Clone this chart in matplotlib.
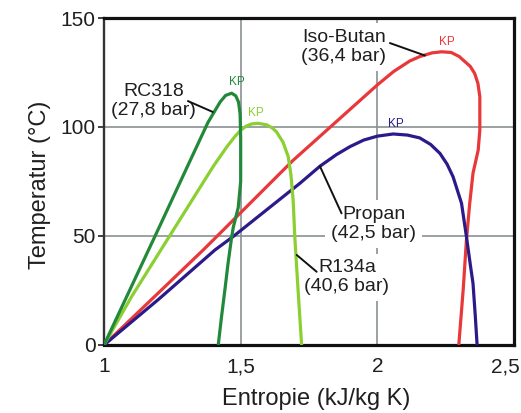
import numpy as np
import matplotlib
matplotlib.use("Agg")
import matplotlib.pyplot as plt
from matplotlib.transforms import ScaledTranslation

# ---------------- data ----------------
# Entropy s (kJ/kg K) and temperature T (degC) along each saturation curve
rc318_s = [1.0, 1.2, 1.3, 1.38, 1.406, 1.425, 1.445, 1.467, 1.482, 1.492, 1.498,
           1.50, 1.50, 1.491, 1.473, 1.467, 1.454, 1.442, 1.43, 1.418]
rc318_T = [0, 53.5, 80.5, 102, 107.5, 111.5, 114.5, 115.5, 114.3, 111.5, 106,
           95, 75, 63, 54, 49.5, 37.6, 25, 13, 0]

r134a_s = [1.0, 1.1, 1.2, 1.3, 1.4, 1.45, 1.48, 1.5, 1.52, 1.54, 1.564,
           1.595, 1.615, 1.631, 1.655, 1.674, 1.684, 1.692, 1.698, 1.71, 1.723]
r134a_T = [0, 22, 42, 62, 82, 91, 95.8, 98.5, 100.4, 101.4, 101.7,
           101, 99.6, 97.8, 93, 86.4, 78, 66.5, 49.7, 25.2, 0]

isobutan_s = [1.0, 1.363, 1.412, 1.69, 2.0, 2.06, 2.119, 2.155, 2.2, 2.235, 2.27, 2.3, 2.314,
              2.34, 2.356, 2.368, 2.375, 2.375, 2.369, 2.35, 2.338, 2.326, 2.314, 2.298]
isobutan_T = [0, 43.6, 49.7, 84.5, 119.3, 125.5, 130.3, 132.3, 134, 134.5, 134.2, 132.3, 130.7,
              127.8, 124.6, 120, 113.9, 98.6, 89.4, 78.8, 65, 48.2, 25.2, 0]

propan_s = [1.0, 1.2, 1.406, 1.472, 1.6, 1.717, 1.79, 1.85, 1.90, 1.95, 2.0, 2.058, 2.11,
            2.155, 2.195, 2.229, 2.255, 2.277, 2.308, 2.326, 2.34, 2.35, 2.358, 2.365]
propan_T = [0, 21, 43.6, 49.7, 62.5, 74.2, 82, 87.3, 91, 94, 95.8, 96.8, 96.3,
            95, 92, 87.9, 83, 77.2, 65, 49.7, 37, 28.3, 14, 0]

names = ["RC318\n(27,8 bar)", "R134a\n(40,6 bar)", "Iso-Butan\n(36,4 bar)", "Propan\n(42,5 bar)"]

x_ticks = [1, 1.5, 2, 2.5]
x_ticklabels = ["1", "1,5", "2", "2,5"]
y_ticks = [0, 50, 100, 150]
y_ticklabels = ["0", "50", "100", "150"]

# ---------------- styling ----------------
plt.rcParams['font.family'] = ['Liberation Sans', 'DejaVu Sans']
c_rc318 = '#23893a'
c_r134a = '#8ccf33'
c_iso = '#e8383a'
c_prop = '#2b1b8a'
txt_col = '#1f1f1f'

fig = plt.figure(figsize=(5.21, 4.13), dpi=100)
ax = fig.add_axes([104/521, 1-345/413, 410/521, 327/413])
ax.set_xlim(1, 2.5)
ax.set_ylim(0, 150)

ax.set_xticks(x_ticks)
ax.set_xticklabels(x_ticklabels)
ax.set_yticks(y_ticks)
ax.set_yticklabels(y_ticklabels)
ax.tick_params(axis='x', length=0, pad=9, labelsize=15, colors=txt_col)
ax.tick_params(axis='y', length=4, width=1.2, pad=2, labelsize=15, colors=txt_col, direction='out')
ax.grid(True, color='#8a9092', lw=1.2, zorder=0)
ax.set_axisbelow(True)

# keep the last x tick label inside the figure
last = ax.get_xticklabels()[-1]
last.set_horizontalalignment('right')
last.set_transform(last.get_transform() + ScaledTranslation(4/72, 0, fig.dpi_scale_trans))

for side in ['top', 'right', 'bottom']:
    ax.spines[side].set_linewidth(2.3)
    ax.spines[side].set_color('#111111')
ax.spines['left'].set_linewidth(1.7)
ax.spines['left'].set_color('#333333')

lw = 2.3
series = [
    (isobutan_s, isobutan_T, c_iso, names[2]),
    (propan_s, propan_T, c_prop, names[3]),
    (r134a_s, r134a_T, c_r134a, names[1]),
    (rc318_s, rc318_T, c_rc318, names[0]),
]
for s, T, c, _ in series:
    ax.plot(s, T, color=c, lw=lw, zorder=3, solid_joinstyle='round', solid_capstyle='butt')

# KP (critical point) labels, offset from the maximum of each curve
kp_offsets = {names[0]: (4, 4), names[1]: (-2, 3), names[2]: (4, 3), names[3]: (2, 3)}
for s, T, c, nm in series:
    i = int(np.argmax(T))
    ax.annotate("KP", xy=(s[i], T[i]), xytext=kp_offsets[nm], textcoords='offset points',
                ha='center', va='bottom', fontsize=8.5, color=c, zorder=4)

# name labels with white background and leader lines
label_pos = {names[0]: (1.181, 111.9), names[2]: (1.878, 136.7),
             names[3]: (1.987, 55.5), names[1]: (1.889, 31.0)}
leader = {names[0]: ((1.307, 111.9), (1.398, 106.9)),
          names[2]: ((2.046, 138.5), (2.174, 132.8)),
          names[3]: ((1.869, 60.4), (1.79, 82.0)),
          names[1]: ((1.778, 33.6), (1.705, 41.3))}
for nm, (x, y) in label_pos.items():
    ax.text(x, y, nm, ha='center', va='center', fontsize=14, color=txt_col,
            linespacing=1.15, zorder=2,
            bbox=dict(boxstyle='square,pad=0.3', fc='white', ec='none'))
for nm, (p0, p1) in leader.items():
    ax.annotate("", xy=p1, xytext=p0,
                arrowprops=dict(arrowstyle='-', lw=1.4, color='#111111',
                                shrinkA=0, shrinkB=0), zorder=4)

ax.set_xlabel("Entropie (kJ/kg K)", fontsize=17, color=txt_col)
ax.xaxis.set_label_coords((316-104)/410, -0.133)
ax.set_ylabel("Temperatur (°C)", fontsize=17, color=txt_col)
ax.yaxis.set_label_coords(-0.13, 0.49)

fig.savefig("out.png", dpi=100)
